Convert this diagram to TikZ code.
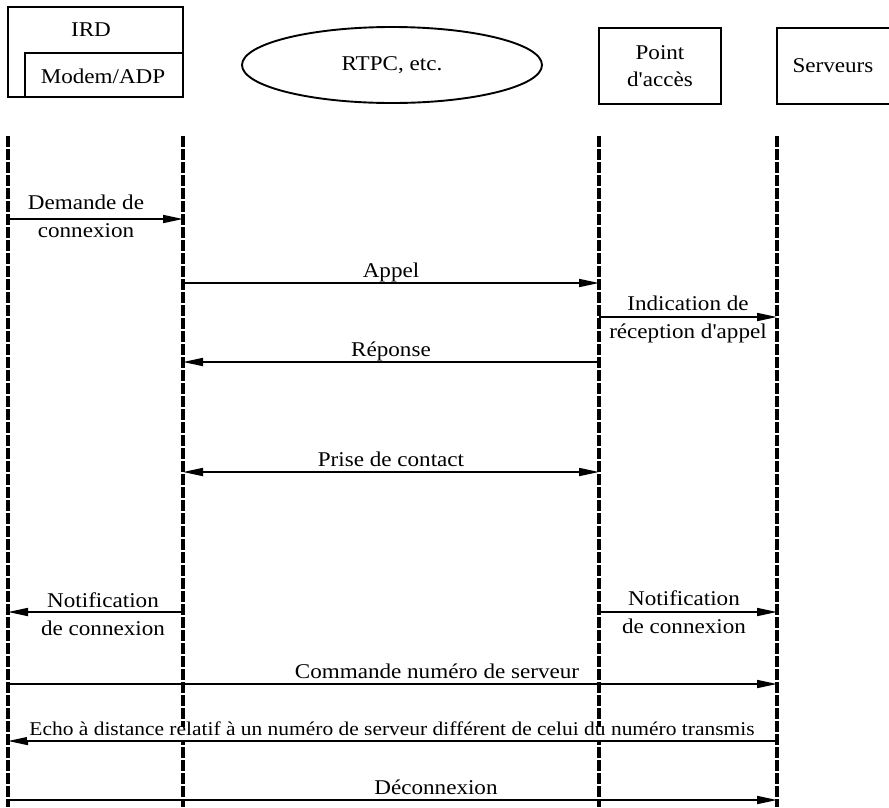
\documentclass[tikz,border=0pt]{standalone}
\usepackage{fontspec}
\setmainfont{Liberation Serif}[FakeStretch=1.1, Ligatures=TeXOff]
\usetikzlibrary{arrows.meta,shapes.geometric}

\begin{document}
\begin{tikzpicture}[x=1pt,y=-1pt,
  box/.style={draw, line width=1.9pt},
  head/.style={font=\fontsize{21}{27}\selectfont, align=center, inner sep=0pt},
  lifeline/.style={line width=3.2pt, dash pattern=on 10.5pt off 2.5pt},
  tip/.tip={Triangle[length=20pt,width=8pt]},
  msg/.style={line width=1.7pt, -tip},
  bothmsg/.style={line width=1.7pt, tip-tip},
  lbl/.style={font=\fontsize{21}{28}\selectfont, inner sep=3pt, text height=0.7em, text depth=0.22em},
  lbltwo/.style={font=\fontsize{21}{28}\selectfont, align=center, inner sep=0pt},
  lblsmall/.style={font=\fontsize{19.5}{24}\selectfont, fill=white, inner sep=2pt, text height=0.7em, text depth=0.22em}]

\useasboundingbox (0,0) rectangle (889,807);

% participants
\draw[box] (8,7) rectangle (183,97);
\node[head] (ird) at (91,30) {IRD};
\draw[box] (25,97) -- (25,53) -- (184,53);
\node[head] (modem) at (103,76) {Modem/ADP};
\node[box, ellipse, inner sep=0pt, minimum width=300pt, minimum height=76pt,
      font=\fontsize{21}{27}\selectfont] (rtpc) at (392,65) {RTPC, etc.};
\node[box, minimum width=122pt, minimum height=76pt, head] (pa) at (660,66) {Point\\d'accès};
\draw[box] (895,28) -- (777,28) -- (777,104) -- (895,104);
\node[head] (srv) at (833,66) {Serveurs};

% lifelines
\coordinate (l1t) at (8,136);   \coordinate (l1b) at (8,807);
\coordinate (l2t) at (183,136); \coordinate (l2b) at (183,807);
\coordinate (l3t) at (599,136); \coordinate (l3b) at (599,807);
\coordinate (l4t) at (777,136); \coordinate (l4b) at (777,807);
\foreach \l in {l1,l2,l3,l4}
  \draw[lifeline] (\l t) -- (\l b);

% messages
\draw[msg] (l1t |- 0,219) -- (l2t |- 0,219);
\node[lbltwo] (m1) at (86,216) {Demande de\\connexion};

\draw[msg] (l2t |- 0,283) -- (l3t |- 0,283);
\node[lbl, above] (m2) at (391,283) {Appel};

\draw[msg] (l3t |- 0,317) -- (l4t |- 0,317);
\node[lbltwo] (m3) at (688,319) {Indication de\\réception d'appel};

\draw[msg] (l3t |- 0,362) -- (l2t |- 0,362);
\node[lbl, above] (m4) at (391,362) {Réponse};

\draw[bothmsg] (l2t |- 0,472) -- (l3t |- 0,472);
\node[lbl, above] (m5) at (391,472) {Prise de contact};

\draw[msg] (l2t |- 0,612) -- (l1t |- 0,612);
\node[lbltwo] (m6) at (103,614) {Notification\\de connexion};

\draw[msg] (l3t |- 0,612) -- (l4t |- 0,612);
\node[lbltwo] (m7) at (684,612) {Notification\\de connexion};

\draw[msg] (l1t |- 0,684) -- (l4t |- 0,684);
\node[lbl, above] (m8) at (437,684) {Commande numéro de serveur};

\draw[msg] (l4t |- 0,741) -- (l1t |- 0,741);
\node[lblsmall, above] (m9) at (392,740) {Echo à distance relatif à un numéro de serveur différent de celui du numéro transmis};

\draw[msg] (l1t |- 0,800) -- (l4t |- 0,800);
\node[lbl, above] (m10) at (436,800) {Déconnexion};
\end{tikzpicture}
\end{document}
